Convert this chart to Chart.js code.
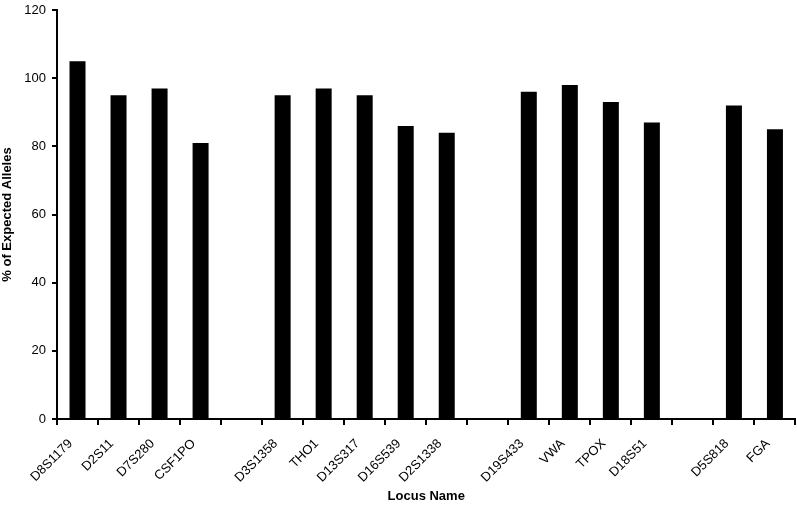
<!DOCTYPE html>
<html>
<head>
<meta charset="utf-8">
<script src="https://cdn.jsdelivr.net/npm/chart.js@4"></script>
<style>
  html, body { margin: 0; padding: 0; background: #fff; }
</style>
</head>
<body>
<canvas id="lociChart" width="797" height="508"></canvas>
<script>
// Locus names; empty strings are the gaps between the groups
const loci = ['D8S1179', 'D2S11', 'D7S280', 'CSF1PO', '',
              'D3S1358', 'THO1', 'D13S317', 'D16S539', 'D2S1338', '',
              'D19S433', 'VWA', 'TPOX', 'D18S51', '',
              'D5S818', 'FGA'];

// % of expected alleles per locus (null for the gaps)
const pctExpected = [105, 95, 97, 81, null,
                     95, 97, 95, 86, 84, null,
                     96, 98, 93, 87, null,
                     92, 85];

const yTicks = [0, 20, 40, 60, 80, 100, 120];

const tickFont = { family: 'Liberation Sans', size: 13 };
const titleFont = { family: 'Liberation Sans', size: 13, weight: 'bold' };

const ctx = document.getElementById('lociChart').getContext('2d');

new Chart(ctx, {
    type: 'bar',
    data: {
        labels: loci,
        datasets: [{
            data: pctExpected,
            backgroundColor: '#000',
            borderWidth: 0,
            barPercentage: 0.39,
            categoryPercentage: 1
        }]
    },
    options: {
        responsive: false,
        animation: false,
        devicePixelRatio: 1,
        layout: { padding: { top: 10, right: 1, left: 0, bottom: 0 } },
        plugins: {
            legend: { display: false },
            tooltip: { enabled: false }
        },
        scales: {
            x: {
                offset: true,
                grid: {
                    offset: true,
                    drawOnChartArea: false,
                    drawTicks: true,
                    tickLength: 6,
                    color: '#000',
                    lineWidth: 2
                },
                border: { display: true, color: '#000', width: 2 },
                ticks: {
                    color: '#000',
                    font: tickFont,
                    minRotation: 45,
                    maxRotation: 45,
                    autoSkip: false,
                    padding: 11,
                    labelOffset: -7
                },
                title: {
                    display: true,
                    text: 'Locus Name',
                    color: '#000',
                    font: titleFont,
                    padding: { top: 0, bottom: 4 }
                },
                afterFit: (scale) => { scale.height = 89; }
            },
            y: {
                min: 0,
                max: 120,
                afterBuildTicks: (scale) => { scale.ticks = yTicks.map(v => ({ value: v })); },
                grid: {
                    drawOnChartArea: false,
                    drawTicks: true,
                    tickLength: 5,
                    color: '#000',
                    lineWidth: 2
                },
                border: { display: true, color: '#000', width: 2 },
                ticks: {
                    color: '#000',
                    font: tickFont,
                    padding: 6
                },
                title: {
                    display: true,
                    text: '% of Expected Alleles',
                    color: '#000',
                    font: titleFont,
                    padding: { top: 0, bottom: 4 }
                },
                afterFit: (scale) => {
                    scale.width = 57;
                    scale.paddingTop = 0;
                    scale.paddingBottom = 0;
                }
            }
        }
    }
});
</script>
</body>
</html>
